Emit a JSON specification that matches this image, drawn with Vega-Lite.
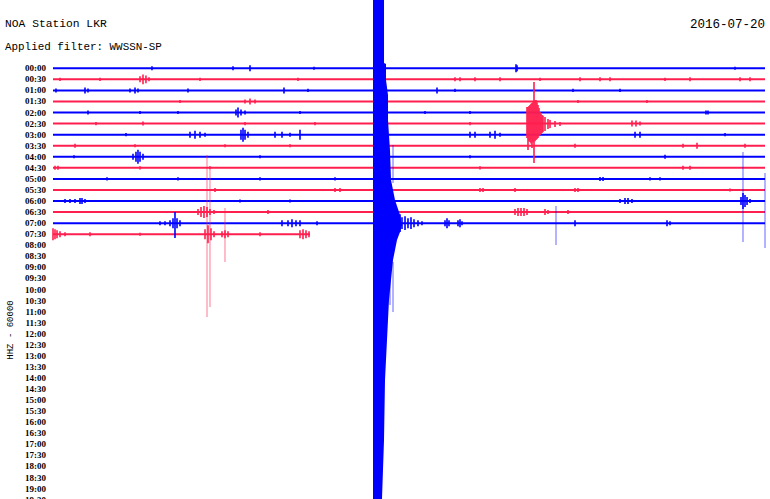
{
"$schema": "https://vega.github.io/schema/vega-lite/v6.json",
"width": 712, "height": 499,
"autosize": "none",
"padding": {"left": 53, "top": 0, "right": 5, "bottom": 0},
"background": "#ffffff",
"config": {"view": {"stroke": null}},
"datasets": {
"traces": [
{"k":0,"x":0,"x2":30,"c":"b"},{"k":1,"x":0,"x2":30,"c":"r"},{"k":2,"x":0,"x2":30,"c":"b"},{"k":3,"x":0,"x2":30,"c":"r"},
{"k":4,"x":0,"x2":30,"c":"b"},{"k":5,"x":0,"x2":30,"c":"r"},{"k":6,"x":0,"x2":30,"c":"b"},{"k":7,"x":0,"x2":30,"c":"r"},
{"k":8,"x":0,"x2":30,"c":"b"},{"k":9,"x":0,"x2":30,"c":"r"},{"k":10,"x":0,"x2":30,"c":"b"},{"k":11,"x":0,"x2":30,"c":"r"},
{"k":12,"x":0,"x2":30,"c":"b"},{"k":13,"x":0,"x2":30,"c":"r"},{"k":14,"x":0,"x2":30,"c":"b"},{"k":15,"x":0,"x2":10.829,"c":"r"}
],
"labels": [
{"k":0,"t":"00:00"},{"k":1,"t":"00:30"},{"k":2,"t":"01:00"},{"k":3,"t":"01:30"},{"k":4,"t":"02:00"},{"k":5,"t":"02:30"},{"k":6,"t":"03:00"},{"k":7,"t":"03:30"},
{"k":8,"t":"04:00"},{"k":9,"t":"04:30"},{"k":10,"t":"05:00"},{"k":11,"t":"05:30"},{"k":12,"t":"06:00"},{"k":13,"t":"06:30"},{"k":14,"t":"07:00"},{"k":15,"t":"07:30"},
{"k":16,"t":"08:00"},{"k":17,"t":"08:30"},{"k":18,"t":"09:00"},{"k":19,"t":"09:30"},{"k":20,"t":"10:00"},{"k":21,"t":"10:30"},{"k":22,"t":"11:00"},{"k":23,"t":"11:30"},
{"k":24,"t":"12:00"},{"k":25,"t":"12:30"},{"k":26,"t":"13:00"},{"k":27,"t":"13:30"},{"k":28,"t":"14:00"},{"k":29,"t":"14:30"},{"k":30,"t":"15:00"},{"k":31,"t":"15:30"},
{"k":32,"t":"16:00"},{"k":33,"t":"16:30"},{"k":34,"t":"17:00"},{"k":35,"t":"17:30"},{"k":36,"t":"18:00"},{"k":37,"t":"18:30"},{"k":38,"t":"19:00"},{"k":39,"t":"19:30"}
],
"spikes": [
{"x":4.171,"y":-0.18,"y2":0.18,"c":"b"},{"x":7.584,"y":-0.18,"y2":0.18,"c":"b"},{"x":8.301,"y":-0.27,"y2":0.27,"c":"b"},{"x":10.997,"y":-0.14,"y2":0.14,"c":"b"},{"x":19.509,"y":-0.36,"y2":0.36,"c":"b"},{"x":19.551,"y":-0.27,"y2":0.27,"c":"b"},{"x":28.736,"y":-0.14,"y2":0.14,"c":"b"},
{"x":0.295,"y":0.86,"y2":1.14,"c":"r"},{"x":1.98,"y":0.86,"y2":1.14,"c":"r"},{"x":3.666,"y":0.73,"y2":1.27,"c":"r"},{"x":3.792,"y":0.55,"y2":1.45,"c":"r"},{"x":3.917,"y":0.64,"y2":1.36,"c":"r"},{"x":4.045,"y":0.82,"y2":1.18,"c":"r"},{"x":6.194,"y":0.86,"y2":1.14,"c":"r"},{"x":10.323,"y":0.86,"y2":1.14,"c":"r"},{"x":16.938,"y":0.82,"y2":1.18,"c":"r"},{"x":17.149,"y":0.82,"y2":1.18,"c":"r"},{"x":17.781,"y":0.82,"y2":1.18,"c":"r"},{"x":18.834,"y":0.82,"y2":1.18,"c":"r"},{"x":20.52,"y":0.86,"y2":1.14,"c":"r"},{"x":22.205,"y":0.82,"y2":1.18,"c":"r"},{"x":23.048,"y":0.82,"y2":1.18,"c":"r"},{"x":23.469,"y":0.82,"y2":1.18,"c":"r"},{"x":25.787,"y":0.86,"y2":1.14,"c":"r"},{"x":26.84,"y":0.82,"y2":1.18,"c":"r"},{"x":28.947,"y":0.82,"y2":1.18,"c":"r"},{"x":29.368,"y":0.82,"y2":1.18,"c":"r"},
{"x":0.126,"y":1.82,"y2":2.18,"c":"b"},{"x":1.348,"y":1.73,"y2":2.27,"c":"b"},{"x":1.475,"y":1.82,"y2":2.18,"c":"b"},{"x":3.244,"y":1.82,"y2":2.18,"c":"b"},{"x":3.455,"y":1.73,"y2":2.27,"c":"b"},{"x":3.581,"y":1.82,"y2":2.18,"c":"b"},{"x":5.688,"y":1.82,"y2":2.18,"c":"b"},{"x":9.733,"y":1.73,"y2":2.27,"c":"b"},{"x":10.744,"y":1.86,"y2":2.14,"c":"b"},{"x":16.18,"y":1.73,"y2":2.27,"c":"b"},{"x":16.938,"y":1.86,"y2":2.14,"c":"b"},{"x":21.91,"y":1.86,"y2":2.14,"c":"b"},{"x":23.891,"y":1.86,"y2":2.14,"c":"b"},
{"x":5.351,"y":2.86,"y2":3.14,"c":"r"},{"x":8.09,"y":2.82,"y2":3.18,"c":"r"},{"x":8.301,"y":2.73,"y2":3.27,"c":"r"},{"x":8.511,"y":2.82,"y2":3.18,"c":"r"},{"x":22.121,"y":2.86,"y2":3.14,"c":"r"},{"x":25.028,"y":2.86,"y2":3.14,"c":"r"},
{"x":1.475,"y":3.82,"y2":4.18,"c":"b"},{"x":3.666,"y":3.86,"y2":4.14,"c":"b"},{"x":5.267,"y":3.86,"y2":4.14,"c":"b"},{"x":7.711,"y":3.73,"y2":4.27,"c":"b"},{"x":7.795,"y":3.55,"y2":4.45,"c":"b"},{"x":7.921,"y":3.73,"y2":4.27,"c":"b"},{"x":8.09,"y":3.82,"y2":4.18,"c":"b"},{"x":10.407,"y":3.86,"y2":4.14,"c":"b"},{"x":15.674,"y":3.86,"y2":4.14,"c":"b"},{"x":17.57,"y":3.86,"y2":4.14,"c":"b"},{"x":27.514,"y":3.82,"y2":4.18,"c":"b"},{"x":27.598,"y":3.82,"y2":4.18,"c":"b"},
{"x":1.812,"y":4.86,"y2":5.14,"c":"r"},{"x":3.792,"y":4.82,"y2":5.18,"c":"r"},{"x":8.09,"y":4.86,"y2":5.14,"c":"r"},{"x":11.039,"y":4.86,"y2":5.14,"c":"r"},{"x":17.57,"y":4.86,"y2":5.14,"c":"r"},{"x":24.396,"y":4.73,"y2":5.27,"c":"r"},{"x":24.565,"y":4.73,"y2":5.27,"c":"r"},{"x":24.733,"y":4.82,"y2":5.18,"c":"r"},
{"x":20.267,"y":1.239,"y2":8.562,"c":"r"},{"x":19.972,"y":3.499,"y2":6.302,"c":"r"},{"x":20.014,"y":3.499,"y2":7.387,"c":"r"},{"x":20.056,"y":3.4,"y2":6.6,"c":"r"},{"x":20.098,"y":3.318,"y2":6.664,"c":"r"},{"x":20.14,"y":3.2,"y2":6.8,"c":"r"},{"x":20.183,"y":3.137,"y2":7.206,"c":"r"},{"x":20.225,"y":3.0,"y2":6.7,"c":"r"},{"x":20.309,"y":2.9,"y2":6.6,"c":"r"},{"x":20.351,"y":2.866,"y2":6.483,"c":"r"},{"x":20.393,"y":3.1,"y2":6.4,"c":"r"},{"x":20.435,"y":3.318,"y2":6.302,"c":"r"},{"x":20.478,"y":3.6,"y2":6.15,"c":"r"},{"x":20.52,"y":3.951,"y2":6.031,"c":"r"},{"x":20.562,"y":4.1,"y2":5.95,"c":"r"},{"x":20.604,"y":4.222,"y2":5.85,"c":"r"},{"x":20.646,"y":4.3,"y2":5.75,"c":"r"},{"x":20.73,"y":4.403,"y2":5.669,"c":"r"},{"x":20.857,"y":4.584,"y2":5.488,"c":"r"},{"x":20.941,"y":4.675,"y2":5.398,"c":"r"},{"x":21.152,"y":4.765,"y2":5.307,"c":"r"},{"x":21.362,"y":4.855,"y2":5.217,"c":"r"},
{"x":3.076,"y":5.86,"y2":6.14,"c":"b"},{"x":5.772,"y":5.73,"y2":6.27,"c":"b"},{"x":5.983,"y":5.64,"y2":6.36,"c":"b"},{"x":6.194,"y":5.73,"y2":6.27,"c":"b"},{"x":6.405,"y":5.82,"y2":6.18,"c":"b"},{"x":7.921,"y":5.55,"y2":6.45,"c":"b"},{"x":8.006,"y":5.37,"y2":6.63,"c":"b"},{"x":8.09,"y":5.55,"y2":6.45,"c":"b"},{"x":8.216,"y":5.73,"y2":6.27,"c":"b"},{"x":9.354,"y":5.73,"y2":6.27,"c":"b"},{"x":9.649,"y":5.73,"y2":6.27,"c":"b"},{"x":9.986,"y":5.82,"y2":6.18,"c":"b"},{"x":10.407,"y":5.55,"y2":6.45,"c":"b"},{"x":17.57,"y":5.73,"y2":6.27,"c":"b"},{"x":17.781,"y":5.73,"y2":6.27,"c":"b"},{"x":18.413,"y":5.73,"y2":6.27,"c":"b"},{"x":18.624,"y":5.64,"y2":6.36,"c":"b"},{"x":18.834,"y":5.82,"y2":6.18,"c":"b"},{"x":24.523,"y":5.73,"y2":6.27,"c":"b"},{"x":24.733,"y":5.73,"y2":6.27,"c":"b"},{"x":28.315,"y":5.86,"y2":6.14,"c":"b"},
{"x":0.927,"y":6.82,"y2":7.18,"c":"r"},{"x":3.455,"y":6.86,"y2":7.14,"c":"r"},{"x":7.247,"y":6.86,"y2":7.14,"c":"r"},{"x":9.986,"y":6.86,"y2":7.14,"c":"r"},{"x":21.994,"y":6.82,"y2":7.18,"c":"r"},{"x":26.545,"y":6.82,"y2":7.18,"c":"r"},{"x":27.135,"y":6.73,"y2":7.27,"c":"r"},{"x":29.157,"y":6.82,"y2":7.18,"c":"r"},
{"x":0.885,"y":7.86,"y2":8.14,"c":"b"},{"x":3.371,"y":7.73,"y2":8.27,"c":"b"},{"x":3.497,"y":7.55,"y2":8.45,"c":"b"},{"x":3.581,"y":7.37,"y2":8.63,"c":"b"},{"x":3.666,"y":7.55,"y2":8.45,"c":"b"},{"x":3.792,"y":7.73,"y2":8.27,"c":"b"},{"x":8.722,"y":7.86,"y2":8.14,"c":"b"},{"x":17.57,"y":7.86,"y2":8.14,"c":"b"},{"x":25.787,"y":7.82,"y2":8.18,"c":"b"},
{"x":0.084,"y":8.82,"y2":9.18,"c":"r"},{"x":0.211,"y":8.82,"y2":9.18,"c":"r"},{"x":3.666,"y":8.86,"y2":9.14,"c":"r"},{"x":6.615,"y":8.86,"y2":9.14,"c":"r"},{"x":17.992,"y":8.86,"y2":9.14,"c":"r"},{"x":26.545,"y":8.82,"y2":9.18,"c":"r"},{"x":26.84,"y":8.82,"y2":9.18,"c":"r"},
{"x":2.275,"y":9.86,"y2":10.14,"c":"b"},{"x":5.267,"y":9.86,"y2":10.14,"c":"b"},{"x":8.722,"y":9.86,"y2":10.14,"c":"b"},{"x":11.882,"y":9.86,"y2":10.14,"c":"b"},{"x":23.048,"y":9.82,"y2":10.18,"c":"b"},{"x":23.174,"y":9.82,"y2":10.18,"c":"b"},{"x":25.155,"y":9.86,"y2":10.14,"c":"b"},{"x":25.576,"y":9.86,"y2":10.14,"c":"b"},
{"x":6.826,"y":10.82,"y2":11.18,"c":"r"},{"x":11.882,"y":10.82,"y2":11.18,"c":"r"},{"x":12.093,"y":10.82,"y2":11.18,"c":"r"},{"x":17.992,"y":10.82,"y2":11.18,"c":"r"},{"x":18.118,"y":10.82,"y2":11.18,"c":"r"},{"x":19.466,"y":10.82,"y2":11.18,"c":"r"},{"x":21.994,"y":10.82,"y2":11.18,"c":"r"},{"x":22.121,"y":10.82,"y2":11.18,"c":"r"},{"x":28.525,"y":10.86,"y2":11.14,"c":"r"},
{"x":0.506,"y":11.82,"y2":12.18,"c":"b"},{"x":0.716,"y":11.82,"y2":12.18,"c":"b"},{"x":0.927,"y":11.82,"y2":12.18,"c":"b"},{"x":1.138,"y":11.73,"y2":12.27,"c":"b"},{"x":1.222,"y":11.73,"y2":12.27,"c":"b"},{"x":1.348,"y":11.82,"y2":12.18,"c":"b"},{"x":7.879,"y":11.86,"y2":12.14,"c":"b"},{"x":9.986,"y":11.86,"y2":12.14,"c":"b"},{"x":23.891,"y":11.82,"y2":12.18,"c":"b"},{"x":24.101,"y":11.73,"y2":12.27,"c":"b"},{"x":24.228,"y":11.73,"y2":12.27,"c":"b"},{"x":24.396,"y":11.82,"y2":12.18,"c":"b"},{"x":28.989,"y":11.64,"y2":12.36,"c":"b"},{"x":29.073,"y":11.28,"y2":12.72,"c":"b"},{"x":29.157,"y":11.46,"y2":12.54,"c":"b"},{"x":29.242,"y":11.64,"y2":12.36,"c":"b"},{"x":29.368,"y":11.82,"y2":12.18,"c":"b"},
{"x":6.11,"y":12.73,"y2":13.27,"c":"r"},{"x":6.236,"y":12.55,"y2":13.45,"c":"r"},{"x":6.362,"y":12.46,"y2":13.54,"c":"r"},{"x":6.489,"y":12.55,"y2":13.45,"c":"r"},{"x":6.615,"y":12.73,"y2":13.27,"c":"r"},{"x":6.784,"y":12.82,"y2":13.18,"c":"r"},{"x":9.059,"y":12.82,"y2":13.18,"c":"r"},{"x":19.466,"y":12.73,"y2":13.27,"c":"r"},{"x":19.593,"y":12.64,"y2":13.36,"c":"r"},{"x":19.719,"y":12.64,"y2":13.36,"c":"r"},{"x":19.846,"y":12.64,"y2":13.36,"c":"r"},{"x":19.972,"y":12.73,"y2":13.27,"c":"r"},{"x":20.73,"y":12.73,"y2":13.27,"c":"r"},{"x":20.857,"y":12.82,"y2":13.18,"c":"r"},{"x":21.7,"y":12.82,"y2":13.18,"c":"r"},
{"x":4.508,"y":13.82,"y2":14.18,"c":"b"},{"x":4.719,"y":13.82,"y2":14.18,"c":"b"},{"x":4.93,"y":13.73,"y2":14.27,"c":"b"},{"x":5.056,"y":13.55,"y2":14.45,"c":"b"},{"x":5.14,"y":12.99,"y2":15.34,"c":"b"},{"x":5.225,"y":13.55,"y2":14.45,"c":"b"},{"x":5.351,"y":13.73,"y2":14.27,"c":"b"},{"x":9.649,"y":13.73,"y2":14.27,"c":"b"},{"x":9.902,"y":13.73,"y2":14.27,"c":"b"},{"x":10.07,"y":13.64,"y2":14.36,"c":"b"},{"x":10.239,"y":13.73,"y2":14.27,"c":"b"},{"x":10.407,"y":13.73,"y2":14.27,"c":"b"},{"x":11.124,"y":13.82,"y2":14.18,"c":"b"},
{"x":14.031,"y":13.1,"y2":14.9,"c":"b"},{"x":14.115,"y":12.91,"y2":15.09,"c":"b"},{"x":14.199,"y":13.19,"y2":14.81,"c":"b"},{"x":14.284,"y":13.01,"y2":14.99,"c":"b"},{"x":14.368,"y":13.28,"y2":14.72,"c":"b"},{"x":14.452,"y":13.1,"y2":14.9,"c":"b"},{"x":14.537,"y":13.37,"y2":14.63,"c":"b"},{"x":14.621,"y":13.19,"y2":14.81,"c":"b"},{"x":14.705,"y":13.46,"y2":14.54,"c":"b"},{"x":14.832,"y":13.37,"y2":14.63,"c":"b"},{"x":14.958,"y":13.55,"y2":14.45,"c":"b"},{"x":15.084,"y":13.46,"y2":14.54,"c":"b"},{"x":15.211,"y":13.64,"y2":14.36,"c":"b"},{"x":15.379,"y":13.73,"y2":14.27,"c":"b"},{"x":15.548,"y":13.82,"y2":14.18,"c":"b"},
{"x":16.517,"y":13.73,"y2":14.27,"c":"b"},{"x":16.601,"y":13.55,"y2":14.45,"c":"b"},{"x":16.685,"y":13.73,"y2":14.27,"c":"b"},{"x":17.065,"y":13.73,"y2":14.27,"c":"b"},{"x":17.149,"y":13.64,"y2":14.36,"c":"b"},{"x":17.233,"y":13.82,"y2":14.18,"c":"b"},{"x":21.994,"y":13.73,"y2":14.27,"c":"b"},{"x":25.871,"y":13.73,"y2":14.27,"c":"b"},{"x":25.998,"y":13.82,"y2":14.18,"c":"b"},
{"x":0.0,"y":14.46,"y2":15.54,"c":"r"},{"x":0.084,"y":14.55,"y2":15.45,"c":"r"},{"x":0.169,"y":14.64,"y2":15.36,"c":"r"},{"x":0.295,"y":14.73,"y2":15.27,"c":"r"},{"x":0.506,"y":14.82,"y2":15.18,"c":"r"},{"x":1.559,"y":14.82,"y2":15.18,"c":"r"},{"x":3.666,"y":14.86,"y2":15.14,"c":"r"},{"x":6.405,"y":14.55,"y2":15.45,"c":"r"},{"x":6.531,"y":14.19,"y2":15.81,"c":"r"},{"x":6.657,"y":14.46,"y2":15.54,"c":"r"},{"x":6.784,"y":14.73,"y2":15.27,"c":"r"},{"x":7.121,"y":14.73,"y2":15.27,"c":"r"},{"x":7.247,"y":14.64,"y2":15.36,"c":"r"},{"x":7.374,"y":14.73,"y2":15.27,"c":"r"},{"x":8.722,"y":14.82,"y2":15.18,"c":"r"},{"x":10.407,"y":14.64,"y2":15.36,"c":"r"},{"x":10.534,"y":14.55,"y2":15.45,"c":"r"},{"x":10.66,"y":14.64,"y2":15.36,"c":"r"},{"x":10.787,"y":14.73,"y2":15.27,"c":"r"}
],
"thin": [
{"x":6.489,"y":7.839,"y2":22.486,"c":"r"},{"x":6.615,"y":9.195,"y2":21.582,"c":"r"},{"x":7.247,"y":12.631,"y2":17.514,"c":"r"},
{"x":29.073,"y":7.568,"y2":15.705,"c":"b"},{"x":30.0,"y":9.467,"y2":16.248,"c":"b"},{"x":21.194,"y":12.45,"y2":15.976,"c":"b"},
{"x":14.326,"y":6.935,"y2":10.371,"c":"b"},{"x":14.199,"y":17.785,"y2":21.402,"c":"b"},{"x":14.326,"y":17.514,"y2":22.035,"c":"b"}
],
"event": [
{"y":-6.175,"l":13.483,"r":13.947},{"y":-0.479,"l":13.483,"r":13.947},{"y":-0.389,"l":13.483,"r":14.031},{"y":1.058,"l":13.483,"r":14.031},
{"y":2.414,"l":13.483,"r":14.115},{"y":4.675,"l":13.483,"r":14.115},{"y":7.387,"l":13.483,"r":14.199},{"y":10.1,"l":13.483,"r":14.242},
{"y":11.908,"l":13.483,"r":14.41},{"y":13.264,"l":13.483,"r":14.621},{"y":14.168,"l":13.483,"r":14.705},{"y":14.801,"l":13.483,"r":14.621},
{"y":15.524,"l":13.483,"r":14.494},{"y":16.429,"l":13.483,"r":14.41},{"y":17.333,"l":13.483,"r":14.326},{"y":20.949,"l":13.483,"r":14.157},
{"y":24.566,"l":13.483,"r":14.073},{"y":28.183,"l":13.483,"r":13.989},{"y":33.608,"l":13.483,"r":13.947},{"y":36.32,"l":13.483,"r":13.904},
{"y":38.94,"l":13.483,"r":13.862}
]
},
"layer": [
{
"data": {"name": "traces"},
"mark": {"type": "rule", "strokeWidth": 2},
"encoding": {
"x": {"field": "x", "type": "quantitative", "scale": {"domain": [0, 30], "nice": false, "zero": false}, "axis": null},
"x2": {"field": "x2"},
"y": {"field": "k", "type": "quantitative", "scale": {"domain": [-6.175, 38.94], "nice": false, "zero": false, "reverse": true}, "axis": null},
"color": {"field": "c", "type": "nominal", "scale": {"domain": ["b", "r"], "range": ["#0000ff", "#ff1f4f"]}, "legend": null}
}
},
{
"data": {"name": "spikes"},
"mark": {"type": "rule", "strokeWidth": 1.6},
"encoding": {
"x": {"field": "x", "type": "quantitative"},
"y": {"field": "y", "type": "quantitative"},
"y2": {"field": "y2"},
"color": {"field": "c", "type": "nominal", "legend": null}
}
},
{
"data": {"name": "thin"},
"mark": {"type": "rule", "strokeWidth": 1, "opacity": 0.6},
"encoding": {
"x": {"field": "x", "type": "quantitative"},
"y": {"field": "y", "type": "quantitative"},
"y2": {"field": "y2"},
"color": {"field": "c", "type": "nominal", "legend": null}
}
},
{
"data": {"name": "event"},
"mark": {"type": "area", "orient": "horizontal", "color": "#0000ff"},
"encoding": {
"y": {"field": "y", "type": "quantitative"},
"x": {"field": "l", "type": "quantitative"},
"x2": {"field": "r"}
}
},
{
"data": {"name": "labels"},
"mark": {"type": "text", "align": "right", "baseline": "middle", "font": "Liberation Serif", "fontSize": 9, "fontWeight": "bold", "color": "#000000", "x": -7},
"encoding": {"y": {"field": "k", "type": "quantitative"}, "text": {"field": "t"}}
},
{
"data": {"values": [{"x": -1.812, "y": 23.66, "t": "HHZ - 60000"}]},
"mark": {"type": "text", "align": "center", "baseline": "middle", "angle": 270, "font": "Liberation Mono", "fontSize": 9, "color": "#000000"},
"encoding": {"x": {"field": "x", "type": "quantitative"}, "y": {"field": "y", "type": "quantitative"}, "text": {"field": "t"}}
},
{
"data": {"values": [{"x": -2.022, "y": -4.05, "t": "NOA Station LKR"}]},
"mark": {"type": "text", "align": "left", "baseline": "middle", "font": "Liberation Mono", "fontSize": 11.3, "color": "#000000"},
"encoding": {"x": {"field": "x", "type": "quantitative"}, "y": {"field": "y", "type": "quantitative"}, "text": {"field": "t"}}
},
{
"data": {"values": [{"x": -2.022, "y": -1.93, "t": "Applied filter: WWSSN-SP"}]},
"mark": {"type": "text", "align": "left", "baseline": "middle", "font": "Liberation Mono", "fontSize": 10.9, "color": "#000000"},
"encoding": {"x": {"field": "x", "type": "quantitative"}, "y": {"field": "y", "type": "quantitative"}, "text": {"field": "t"}}
},
{
"data": {"values": [{"x": 30, "y": -4.0, "t": "2016-07-20"}]},
"mark": {"type": "text", "align": "right", "baseline": "middle", "font": "Liberation Mono", "fontSize": 12.5, "color": "#000000"},
"encoding": {"x": {"field": "x", "type": "quantitative"}, "y": {"field": "y", "type": "quantitative"}, "text": {"field": "t"}}
}
]
}
